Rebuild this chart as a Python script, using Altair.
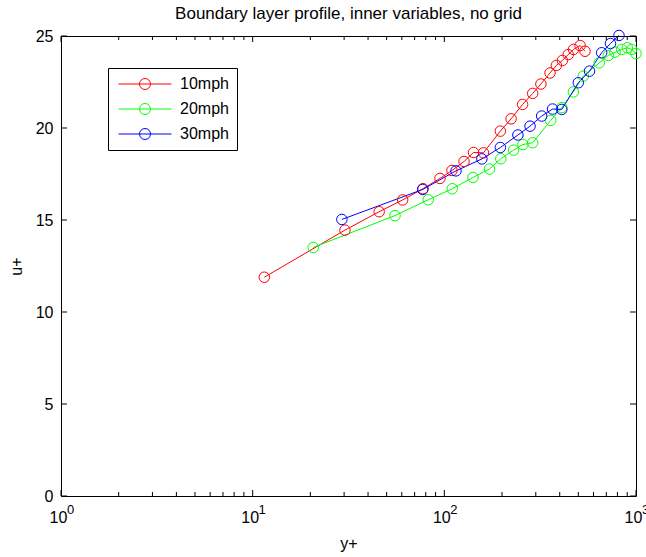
import altair as alt
import pandas as pd

# ---------------- data ----------------
series_names = ["10mph", "20mph", "30mph"]
series_colors = ["#ff0000", "#00ff00", "#0000ff"]

yplus_10 = [11.5, 30.3, 45.7, 60.6, 77.4, 94.9, 109.6, 126.7, 142, 160, 196, 223,
            256, 289, 319, 356, 384, 413, 443, 472, 511, 542]
uplus_10 = [11.89, 14.45, 15.45, 16.09, 16.70, 17.26, 17.69, 18.18, 18.67, 18.65, 19.83, 20.50,
            21.28, 21.88, 22.39, 22.99, 23.40, 23.67, 23.99, 24.27, 24.48, 24.17]

yplus_20 = [20.7, 55.3, 82.4, 110, 141, 172, 197, 230, 257, 289, 359, 410,
            471, 531, 643, 717, 777, 842, 901, 949, 1000]
uplus_20 = [13.51, 15.24, 16.10, 16.70, 17.31, 17.77, 18.33, 18.80, 19.10, 19.20, 20.41, 21.11,
            21.96, 22.82, 23.54, 23.94, 24.12, 24.27, 24.36, 24.27, 24.05]

yplus_30 = [29.2, 77.1, 115, 157, 196, 242, 280, 322, 367, 410, 500, 572, 662, 736, 815]
uplus_30 = [15.03, 16.66, 17.67, 18.32, 18.94, 19.62, 20.10, 20.65, 21.03, 21.01, 22.46, 23.09,
            24.09, 24.59, 25.03]

x_major_ticks = [1, 10, 100, 1000]
x_minor_ticks = [2, 3, 4, 5, 6, 7, 8, 9, 20, 30, 40, 50, 60, 70, 80, 90,
                 200, 300, 400, 500, 600, 700, 800, 900]
y_major_ticks = [0, 5, 10, 15, 20, 25]

title_text = "Boundary layer profile, inner variables, no grid"
x_title = "y+"
y_title = "u+"

# ---------------- tables ----------------
rows = []
for name, xs, ys in zip(series_names, [yplus_10, yplus_20, yplus_30], [uplus_10, uplus_20, uplus_30]):
    for i, (a, b) in enumerate(zip(xs, ys)):
        rows.append({"series": name, "yplus": a, "uplus": b, "idx": i})
df = pd.DataFrame(rows)
xmaj = pd.DataFrame({"v": x_major_ticks})
xmin = pd.DataFrame({"v": x_minor_ticks})
ymaj = pd.DataFrame({"v": y_major_ticks})

# ---------------- styling ----------------
FONT = "Liberation Sans"
W, H = 575, 460
MAJ, MIN = 6, 4

xscale = alt.Scale(type="log", domain=[1, 1000], nice=False)
yscale = alt.Scale(domain=[0, 25], nice=False, zero=False)

# legend symbol: a line with an open circle on it (units of 5.5 px)
LEG_PATH = "M-1,0L8.64,0M2.82,0A1,1 0 1,1 4.82,0A1,1 0 1,1 2.82,0"
legend = alt.Legend(
    title=None, orient="none", legendX=47, legendY=32, padding=8,
    strokeColor="black", fillColor="white", cornerRadius=0,
    symbolType=LEG_PATH, symbolSize=121, symbolStrokeWidth=1,
    symbolFillColor="transparent",
    labelOffset=48, labelFont=FONT, labelFontSize=16, labelColor="black",
    rowPadding=9,
)
color = alt.Color("series:N", scale=alt.Scale(domain=series_names, range=series_colors),
                  legend=legend)

x_axis_main = alt.Axis(
    orient="bottom", values=x_major_ticks, labelExpr="'10'", labelOffset=-3,
    labelPadding=13, labelFont=FONT, labelFontSize=16, labelColor="black",
    labelFlush=False, labelOverlap=False, labelBound=False,
    ticks=False, domain=False, grid=False,
    title=x_title, titleFont=FONT, titleFontSize=16, titleFontWeight="normal",
    titleColor="black", titlePadding=10,
)
x_axis_sup = alt.Axis(
    orient="bottom", values=x_major_ticks,
    labelExpr="'' + round(log(datum.value) / LN10)", labelOffset=9,
    labelPadding=7, labelFont=FONT, labelFontSize=13, labelColor="black",
    labelFlush=False, labelOverlap=False, labelBound=False,
    ticks=False, domain=False, grid=False, title=None,
)
y_axis = alt.Axis(
    values=y_major_ticks, labelPadding=8, labelFont=FONT, labelFontSize=16,
    labelColor="black", ticks=False, domain=False, grid=False,
    title=y_title, titleFont=FONT, titleFontSize=16, titleFontWeight="normal",
    titleColor="black", titlePadding=11,
)

base = alt.Chart(df)
lines = base.mark_line(strokeWidth=1).encode(
    x=alt.X("yplus:Q", scale=xscale, axis=x_axis_main),
    y=alt.Y("uplus:Q", scale=yscale, axis=y_axis),
    color=color,
    order="idx:Q",
)
points = base.mark_point(shape="circle", filled=False, size=110, strokeWidth=1, opacity=1).encode(
    x=alt.X("yplus:Q", scale=xscale, axis=None),
    y=alt.Y("uplus:Q", scale=yscale, axis=y_axis),
    color=color,
)

rule_style = dict(color="black", strokeWidth=1)
xt_bot_maj = alt.Chart(xmaj).mark_rule(**rule_style).encode(
    x=alt.X("v:Q", scale=xscale, axis=x_axis_sup), y=alt.value(H), y2=alt.value(H - MAJ))
xt_top_maj = alt.Chart(xmaj).mark_rule(**rule_style).encode(
    x=alt.X("v:Q", scale=xscale, axis=None), y=alt.value(0), y2=alt.value(MAJ))
xt_bot_min = alt.Chart(xmin).mark_rule(**rule_style).encode(
    x=alt.X("v:Q", scale=xscale, axis=None), y=alt.value(H), y2=alt.value(H - MIN))
xt_top_min = alt.Chart(xmin).mark_rule(**rule_style).encode(
    x=alt.X("v:Q", scale=xscale, axis=None), y=alt.value(0), y2=alt.value(MIN))
yt_left = alt.Chart(ymaj).mark_rule(**rule_style).encode(
    y=alt.Y("v:Q", scale=yscale, axis=y_axis), x=alt.value(0), x2=alt.value(MAJ))
yt_right = alt.Chart(ymaj).mark_rule(**rule_style).encode(
    y=alt.Y("v:Q", scale=yscale, axis=y_axis), x=alt.value(W), x2=alt.value(W - MAJ))

chart = alt.layer(
    lines, points, xt_bot_maj, xt_top_maj, xt_bot_min, xt_top_min, yt_left, yt_right
).resolve_axis(x="independent").properties(
    width=W, height=H,
    title=alt.Title(title_text, font=FONT, fontSize=17, fontWeight="normal",
                    color="black", anchor="middle", offset=5),
    autosize=alt.AutoSizeParams(type="none"),
    padding={"left": 61, "top": 36, "right": 10, "bottom": 61},
    background="white",
).configure_view(stroke="black", strokeWidth=1)

chart.save("out.html", embed_options={"renderer": "svg", "actions": False})
